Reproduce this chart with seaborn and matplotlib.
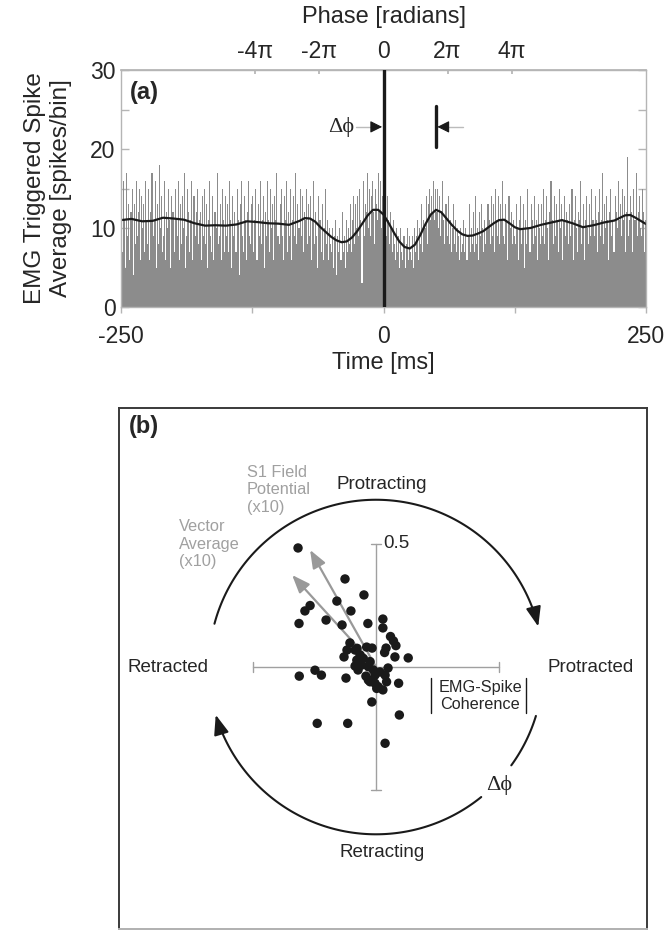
import numpy as np
import seaborn as sns
import matplotlib
matplotlib.use('Agg')
import matplotlib.pyplot as plt
from matplotlib.ticker import MultipleLocator

# ---- panel (a): EMG triggered spike average, 1 ms bins from -250 to 250 ms
spike_counts = [
    14, 7, 16, 11, 5, 17, 9, 13, 6, 12, 15, 4, 13, 8, 16, 9, 12, 15, 6, 14, 10, 13, 7, 16, 11,
    8, 15, 6, 12, 17, 9, 11, 16, 5, 13, 8, 18, 10, 14, 7, 9, 16, 6, 12, 10, 15, 11, 5, 14, 12,
    7, 15, 11, 9, 16, 6, 13, 8, 14, 10, 17, 5, 9, 15, 12, 7, 11, 16, 6, 14, 9, 12, 15, 8, 11,
    12, 6, 14, 9, 15, 8, 13, 5, 11, 16, 9, 7, 14, 6, 12, 10, 17, 8, 9, 13, 6, 15, 11, 7, 14,
    9, 13, 7, 16, 11, 5, 14, 9, 12, 7, 15, 11, 4, 13, 16, 9, 7, 14, 11, 6, 12, 16, 9, 8, 13,
    14, 7, 11, 15, 6, 13, 9, 16, 8, 11, 14, 5, 12, 9, 16, 11, 7, 15, 10, 13, 6, 14, 11, 17, 9,
    8, 13, 15, 9, 6, 14, 11, 16, 7, 12, 9, 15, 6, 11, 14, 9, 17, 8, 13, 10, 15, 9, 14, 7, 12,
    11, 15, 8, 13, 9, 14, 6, 11, 16, 8, 12, 9, 5, 14, 11, 7, 13, 6, 10, 15, 8, 11, 6, 10, 8,
    7, 10, 5, 9, 11, 4, 9, 7, 10, 6, 12, 7, 9, 5, 11, 7, 10, 8, 13, 7, 11, 14, 8, 13, 10,
    14, 9, 15, 11, 3, 16, 9, 13, 12, 17, 10, 15, 9, 14, 16, 12, 8, 15, 13, 11, 17, 12, 16, 10, 14,
    13, 15, 9, 14, 11, 8, 12, 10, 7, 11, 8, 6, 10, 7, 9, 5, 10, 7, 6, 9, 5, 8, 10, 6, 9,
    7, 6, 9, 5, 10, 7, 9, 11, 6, 10, 8, 13, 7, 11, 10, 14, 8, 13, 15, 11, 14, 12, 16, 11, 15,
    12, 15, 10, 14, 9, 12, 16, 11, 8, 13, 9, 14, 8, 11, 7, 10, 13, 8, 11, 7, 10, 9, 6, 10, 7,
    8, 11, 7, 10, 6, 9, 13, 7, 10, 8, 12, 7, 14, 8, 10, 6, 12, 9, 13, 10, 7, 11, 8, 10, 13,
    11, 8, 14, 9, 13, 7, 15, 11, 9, 14, 8, 13, 11, 16, 9, 8, 13, 11, 6, 14, 10, 12, 8, 11, 9,
    8, 13, 10, 6, 11, 14, 8, 10, 13, 5, 11, 8, 15, 10, 7, 13, 11, 8, 14, 9, 11, 6, 13, 10, 8,
    13, 9, 15, 8, 11, 14, 10, 6, 12, 16, 11, 8, 14, 9, 13, 11, 7, 15, 10, 13, 6, 11, 14, 9, 12,
    11, 8, 13, 9, 15, 6, 11, 14, 10, 7, 12, 11, 16, 8, 10, 13, 6, 11, 14, 10, 8, 13, 9, 15, 11,
    9, 14, 11, 7, 12, 15, 9, 11, 17, 8, 13, 10, 14, 11, 6, 12, 15, 9, 11, 7, 14, 12, 10, 16, 11,
    13, 9, 15, 11, 14, 7, 12, 19, 9, 11, 14, 12, 7, 15, 11, 17, 9, 12, 14, 10, 9, 15, 12, 7, 11,
]
bin_time = np.arange(-249.5, 250, 1.0)

# smoothed average (black line)
curve_time = [-250, -240, -230, -220, -210, -200, -190, -180, -170, -160, -150, -140, -130,
              -120, -110, -100, -90, -80, -75, -70, -65, -60, -55, -50, -45, -40, -35, -30,
              -25, -20, -15, -10, -5, 0, 5, 10, 15, 20, 25, 30, 35, 40, 45, 50, 55, 60, 65,
              70, 75, 80, 85, 90, 95, 100, 105, 110, 115, 120, 125, 130, 140, 150, 160, 170,
              180, 190, 200, 210, 220, 230, 235, 240, 250]
curve_rate = [11.0, 11.15, 10.85, 10.9, 11.3, 11.2, 11.05, 10.6, 10.3, 10.35, 10.3, 10.45, 10.85,
              10.75, 10.6, 10.55, 10.4, 10.9, 11.25, 11.2, 10.8, 10.1, 9.5, 8.9, 8.45, 8.2, 8.3, 8.8,
              9.6, 10.6, 11.6, 12.3, 12.3, 11.7, 10.6, 9.4, 8.3, 7.6, 7.4, 7.9, 9.1, 10.5, 11.7,
              12.3, 12.0, 11.2, 10.4, 9.7, 9.2, 9.0, 9.05, 9.3, 9.6, 10.1, 10.6, 11.0, 11.05, 10.6,
              10.1, 9.85, 10.0, 10.4, 10.7, 11.0, 10.6, 10.1, 10.35, 10.7, 10.95, 11.6, 11.65,
              11.3, 10.5]

phase_ms = [-122, -61, 0, 61, 122]
phase_labels = ['-4π', '-2π', '0', '2π', '4π']
lag_ms = 50

# ---- panel (b): EMG-spike coherence per unit (x, y in coherence units)
coh_x = [-0.317, -0.126, -0.049, -0.159, -0.268, -0.289, -0.102, -0.203, -0.313, -0.138,
         -0.033, 0.028, 0.028, 0.059, 0.071, 0.081, 0.041, 0.035, 0.077, 0.131,
         -0.106, -0.077, -0.038, -0.085, -0.130, -0.078, -0.052, -0.024, -0.085, -0.058,
         -0.031, -0.011, -0.004, -0.024, -0.004, 0.009, 0.037, 0.043, 0.092, 0.003,
         -0.017, -0.312, -0.248, -0.222, -0.122, 0.095, -0.239, -0.115, 0.037, -0.031,
         -0.065, -0.016, -0.073, 0.016, -0.041, 0.028, 0.049, -0.118]
coh_y = [0.484, 0.358, 0.293, 0.268, 0.250, 0.228, 0.228, 0.191, 0.177, 0.171,
         0.177, 0.195, 0.159, 0.124, 0.106, 0.087, 0.077, 0.059, 0.041, 0.037,
         0.098, 0.076, 0.081, 0.069, 0.041, 0.028, 0.035, 0.022, 0.004, 0.008,
         0.001, -0.012, -0.033, -0.060, -0.066, -0.080, -0.033, -0.060, -0.066, -0.087,
         -0.142, -0.037, -0.013, -0.033, -0.045, -0.195, -0.229, -0.229, -0.310, -0.053,
         0.049, 0.077, -0.012, -0.020, -0.037, -0.093, -0.004, 0.069]
s1_tip = (-0.268, 0.476)      # S1 field potential (x10)
vec_tip = (-0.341, 0.374)     # vector average (x10)

sns.set_theme(style='white')
plt.rcParams['font.family'] = ['Liberation Sans', 'DejaVu Sans']
plt.rcParams['axes.unicode_minus'] = False
serif = ['Liberation Serif', 'DejaVu Serif']
spine_gray = '#b5b5b5'

fig = plt.figure(figsize=(6.7, 9.31), dpi=100)

# ================= panel (a)
ax = fig.add_axes([121 / 670, 1 - 307 / 931, 525 / 670, 237 / 931])
sns.histplot(x=bin_time, weights=spike_counts, bins=500, binrange=(-250, 250),
             color='#8c8c8c', alpha=1, linewidth=0, ax=ax)
sns.lineplot(x=curve_time, y=curve_rate, color='k', lw=1.6, ax=ax)
ax.plot([0, 0], [0, 30], color='k', lw=2.4, zorder=4)
ax.plot([lag_ms, lag_ms], [20.3, 25.4], color='k', lw=2.4)

# delta phi markers
ax.text(-40.3, 22.8, 'Δϕ', family=serif, fontsize=16, ha='center', va='center')
ax.plot([-26, -8], [22.8, 22.8], color='#bbbbbb', lw=1)
ax.annotate('', xy=(-1.3, 22.8), xytext=(-9, 22.8),
            arrowprops=dict(arrowstyle='-|>,head_length=0.6,head_width=0.3', color='k',
                            lw=0.8, shrinkA=0, shrinkB=0))
ax.plot([76, 58], [22.8, 22.8], color='#bbbbbb', lw=1)
ax.annotate('', xy=(lag_ms + 1.3, 22.8), xytext=(lag_ms + 9, 22.8),
            arrowprops=dict(arrowstyle='-|>,head_length=0.6,head_width=0.3', color='k',
                            lw=0.8, shrinkA=0, shrinkB=0))
ax.text(0.017, 0.903, '(a)', transform=ax.transAxes, fontsize=17, fontweight='bold',
        va='center', ha='left')

ax.set_xlim(-250, 250)
ax.set_ylim(0, 30)
ax.set_yticks(range(0, 31, 5))
ax.set_yticklabels(['0', '', '10', '', '20', '', '30'])
ax.set_xticks([-250, -125, 0, 125, 250])
ax.set_xticklabels(['-250', '', '0', '', '250'])
ax.xaxis.set_minor_locator(MultipleLocator(25))
ax.tick_params(axis='y', which='major', direction='in', length=6, width=1, color=spine_gray,
               left=True, right=True, labelsize=16.5, pad=4)
ax.tick_params(axis='x', which='major', direction='out', length=4, width=1, color=spine_gray,
               bottom=True, top=False, labelsize=16.5, pad=9)
ax.tick_params(axis='x', which='minor', direction='in', length=2.5, width=1, color=spine_gray,
               bottom=True, top=False)
for s in ax.spines.values():
    s.set_color(spine_gray)
    s.set_linewidth(1)
ax.set_xlabel('Time [ms]', fontsize=17, labelpad=3)
ax.set_ylabel('EMG Triggered Spike\nAverage [spikes/bin]', fontsize=17.5, labelpad=13)

sec = ax.secondary_xaxis('top')
sec.set_xticks(phase_ms)
sec.set_xticklabels(phase_labels)
sec.tick_params(direction='in', length=3, color=spine_gray, labelsize=16.5, pad=5)
for s in sec.spines.values():
    s.set_color(spine_gray)
sec.set_xlabel('Phase [radians]', fontsize=17, labelpad=12)

# ================= panel (b)
bx = fig.add_axes([119 / 670, 2 / 931, 528 / 670, 521 / 931])
bx.set_xlim(-1.045, 1.102)
bx.set_ylim(-1.065, 1.053)
bx.set_xticks([])
bx.set_yticks([])
for name, s in bx.spines.items():
    s.set_color('#3a3a3a' if name != 'bottom' else '#b0b0b0')
    s.set_linewidth(1.4)

axis_gray = '#a0a0a0'
bx.plot([-0.5, 0.5], [0, 0], color=axis_gray, lw=1)
bx.plot([0, 0], [-0.5, 0.5], color=axis_gray, lw=1)
for v in (-0.5, 0.5):
    bx.plot([v, v], [-0.022, 0.022], color=axis_gray, lw=1)
    bx.plot([-0.022, 0.022], [v, v], color=axis_gray, lw=1)
bx.text(0.029, 0.504, '0.5', fontsize=13.5, ha='left', va='center')

# phase circle arcs with arrowheads (clockwise)
R = 0.68


def arc(a0, a1):
    t = np.radians(np.linspace(a0, a1, 120))
    bx.plot(R * np.cos(t), R * np.sin(t), color='k', lw=1.5)


def arc_head(ang):
    th = np.radians(ang)
    tip = np.array([R * np.cos(th), R * np.sin(th)])
    d = np.array([np.sin(th), -np.cos(th)])
    bx.annotate('', xy=tip, xytext=tip - 0.07 * d,
                arrowprops=dict(arrowstyle='-|>,head_length=1.0,head_width=0.38',
                                color='k', lw=1.5, shrinkA=0, shrinkB=0))


arc(165, 19)
arc_head(14)
arc(-17, -36)
arc(-51, -158)
arc_head(-163.4)

# vector arrows
for tip in (s1_tip, vec_tip):
    bx.annotate('', xy=tip, xytext=(0, 0),
                arrowprops=dict(arrowstyle='-|>,head_length=0.9,head_width=0.35',
                                color='#999999', lw=1.6, shrinkA=0, shrinkB=0))

sns.scatterplot(x=coh_x, y=coh_y, color='k', s=46, edgecolor='none', zorder=5, ax=bx)

bx.text(-1.004, 0.976, '(b)', fontsize=17, fontweight='bold', ha='left', va='center')
bx.text(0.024, 0.74, 'Protracting', fontsize=13.5, ha='center', va='center')
bx.text(0.024, -0.752, 'Retracting', fontsize=13.5, ha='center', va='center')
bx.text(-1.012, 0.0, 'Retracted', fontsize=13.5, ha='left', va='center')
bx.text(0.699, 0.0, 'Protracted', fontsize=13.5, ha='left', va='center')
bx.text(-0.526, 0.72, 'S1 Field\nPotential\n(x10)', fontsize=11.8, color='#a0a0a0',
        ha='left', va='center', linespacing=1.2)
bx.text(-0.80, 0.499, 'Vector\nAverage\n(x10)', fontsize=11.8, color='#a0a0a0',
        ha='left', va='center', linespacing=1.2)
bx.text(0.423, -0.118, 'EMG-Spike\nCoherence', fontsize=11.7, ha='center', va='center',
        linespacing=1.2)
bx.plot([0.224, 0.224], [-0.045, -0.187], color='k', lw=1)
bx.plot([0.610, 0.610], [-0.045, -0.187], color='k', lw=1)
bx.text(0.499, -0.480, 'Δϕ', family=serif, fontsize=16, ha='center', va='center')

fig.savefig('out.png', dpi=100)
